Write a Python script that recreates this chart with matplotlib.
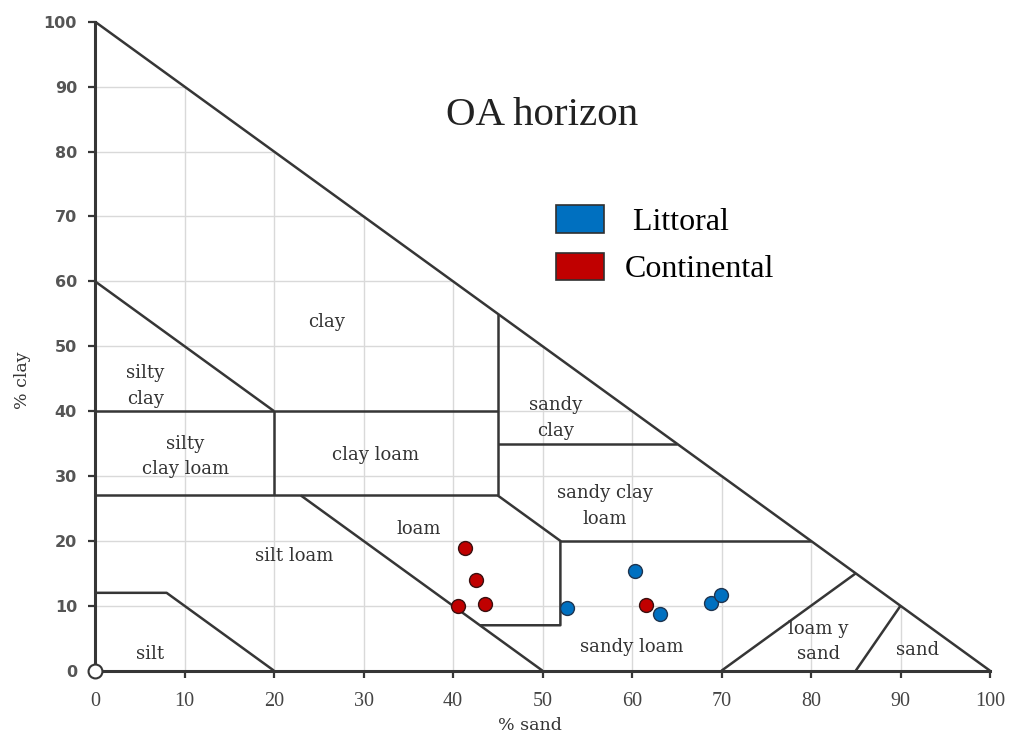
import matplotlib.pyplot as plt
from matplotlib.patches import Patch

# Muestras del horizonte OA: % arena y % arcilla
littoral_sand = [52.7, 60.3, 63.1, 68.8, 69.9]
littoral_clay = [9.7, 15.4, 8.7, 10.4, 11.7]
continental_sand = [41.3, 42.6, 43.6, 40.6, 61.6]
continental_clay = [18.9, 14.0, 10.3, 9.9, 10.1]

# Limites de las clases texturales (USDA) en coordenadas arena-arcilla
limites = [
    [(0, 100), (100, 0)],
    [(0, 60), (20, 40)],
    [(0, 40), (45, 40)],
    [(45, 55), (45, 27)],
    [(45, 35), (65, 35)],
    [(0, 27), (45, 27)],
    [(20, 40), (20, 27)],
    [(23, 27), (50, 0)],
    [(45, 27), (52, 20), (52, 7), (43, 7)],
    [(52, 20), (80, 20)],
    [(0, 12), (8, 12), (20, 0)],
    [(70, 0), (85, 15)],
    [(85, 0), (90, 10)],
]

clases = ['clay', 'silty\nclay', 'silty\nclay loam', 'clay loam', 'sandy\nclay',
          'sandy clay\nloam', 'loam', 'silt loam', 'silt', 'sandy loam',
          'loam y\nsand', 'sand']
clases_x = [25.9, 5.6, 10.1, 31.4, 51.5, 57.0, 36.2, 22.3, 6.1, 60.0, 80.8, 91.9]
clases_y = [53.8, 43.9, 33.0, 33.3, 38.9, 25.4, 21.9, 17.6, 2.6, 3.7, 4.5, 3.2]

ticks = list(range(0, 101, 10))

gris = '#363636'

fig = plt.figure(figsize=(10.11, 7.40), dpi=100)
ax = fig.add_axes([95 / 1011, 69.3 / 740, 895 / 1011, 649 / 740])
ax.set_xlim(0, 100)
ax.set_ylim(0, 100)

# grilla solo dentro del triangulo
for v in ticks[1:-1]:
    ax.plot([v, v], [0, 100 - v], color='#d9d9d9', lw=1, zorder=1)
    ax.plot([0, 100 - v], [v, v], color='#d9d9d9', lw=1, zorder=1)

for lim in limites:
    xs = [p[0] for p in lim]
    ys = [p[1] for p in lim]
    ax.plot(xs, ys, color=gris, lw=1.8, zorder=2, clip_on=False,
            solid_capstyle='butt')

for t, x, y in zip(clases, clases_x, clases_y):
    ax.text(x, y, t, ha='center', va='center', fontsize=13,
            family='DejaVu Serif', color='#333333', linespacing=1.55,
            zorder=3)

ax.text(50, 85.5, 'OA horizon', ha='center', va='center', fontsize=29.5,
        family='Liberation Serif', color='#222222')

ax.scatter(littoral_sand, littoral_clay, s=100, color='#0070C0',
           edgecolor='#1f3550', linewidth=1, zorder=5)
ax.scatter(continental_sand, continental_clay, s=100, color='#C00000',
           edgecolor='#3a1010', linewidth=1, zorder=5)
ax.plot([0], [0], marker='o', ms=10, mfc='white', mec=gris, mew=1.5,
        clip_on=False, zorder=6)

for s in ['top', 'right']:
    ax.spines[s].set_visible(False)
for s in ['left', 'bottom']:
    ax.spines[s].set_color(gris)
    ax.spines[s].set_linewidth(2.2)

ax.set_xticks(ticks)
ax.set_yticks(ticks)
ax.tick_params(direction='out', length=5, width=1.6, color=gris)
ax.tick_params(axis='y', pad=8)
ax.tick_params(axis='x', pad=10)
for lab in ax.get_yticklabels():
    lab.set_family('DejaVu Sans')
    lab.set_fontweight('bold')
    lab.set_fontsize(11.5)
    lab.set_color('#555555')
for lab in ax.get_xticklabels():
    lab.set_family('Liberation Serif')
    lab.set_fontsize(14.5)
    lab.set_color('#444444')

ax.set_xlabel('% sand', family='DejaVu Serif', fontsize=12.5, color='#333333')
ax.set_ylabel('% clay', family='DejaVu Serif', fontsize=12.5, color='#333333')
ax.xaxis.set_label_coords(0.486, -0.072)
ax.yaxis.set_label_coords(-0.071, 0.448)

handles = [Patch(facecolor='#0070C0', edgecolor='#303030', lw=1.2),
           Patch(facecolor='#C00000', edgecolor='#303030', lw=1.2)]
fig.legend(handles, [' Littoral', 'Continental'], loc='upper left',
           bbox_to_anchor=(556 / 1011, 1 - 205 / 740), frameon=False,
           prop={'family': 'Liberation Serif', 'size': 23},
           handlelength=1.5, handleheight=0.95, handletextpad=0.65,
           labelspacing=0.5, borderpad=0, borderaxespad=0)

fig.savefig('out.png', dpi=100)
